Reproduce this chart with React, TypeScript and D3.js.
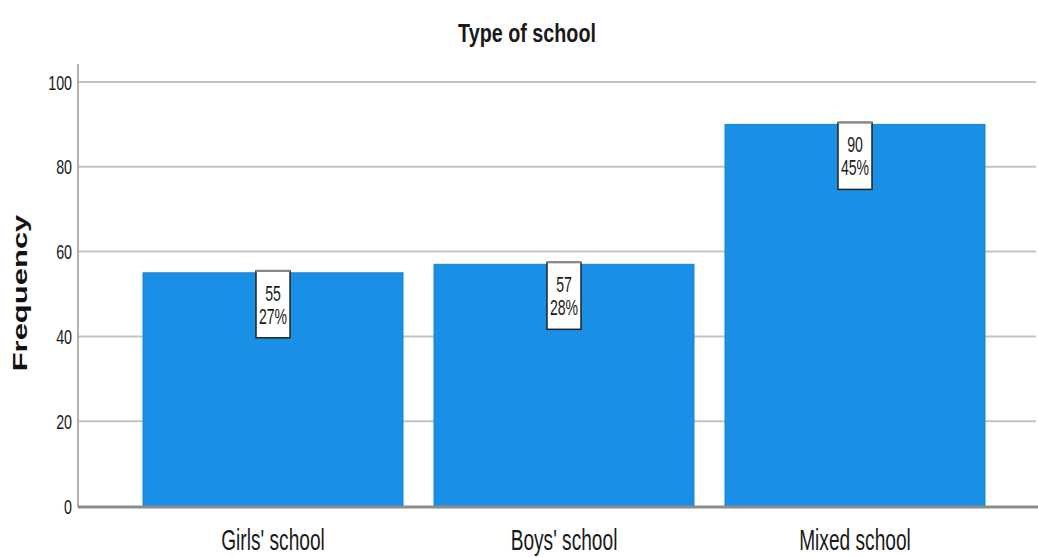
import React from "react";
import * as d3 from "d3";

const categories = ["Girls' school", "Boys' school", "Mixed school"];
const counts = [55, 57, 90];
const percents = ["27%", "28%", "45%"];
const yTicks = [0, 20, 40, 60, 80, 100];

const W = 1038;
const H = 557;
const font = "'Liberation Sans', Arial, sans-serif";

function SText(props: { x: number; y: number; sx: number; size: number; anchor?: string; bold?: boolean; children: any }) {
  return (
    <text
      transform={`translate(${props.x},${props.y}) scale(${props.sx},1)`}
      textAnchor={props.anchor || "middle"}
      fontFamily={font}
      fontWeight={props.bold ? "bold" : "normal"}
      fontSize={props.size}
      fill="#1a1a1a"
    >
      {props.children}
    </text>
  );
}

export default function App() {
  const x = d3.scaleBand<string>().domain(categories).range([127.5, 1000.5]).paddingInner(0.1065).paddingOuter(0.0533);
  const y = d3.scaleLinear().domain([0, 100]).range([506, 82]);
  const axisX = 78;
  return (
    <svg width={W} height={H} style={{ position: "absolute", left: 0, top: 0, background: "#fff" }}>
      {yTicks.filter((t) => t > 0).map((t) => (
        <line key={t} x1={axisX} x2={1036} y1={y(t)} y2={y(t)} stroke="#c4c4c4" strokeWidth={2} />
      ))}
      <line x1={axisX} x2={axisX} y1={64} y2={507} stroke="#9a9a9a" strokeWidth={1.5} />
      {yTicks.map((t) => (
        <SText key={t} x={72} y={y(t) + 7.5} sx={0.68} size={21} anchor="end">{t}</SText>
      ))}
      {categories.map((c, i) => (
        <rect key={c} x={x(c)} y={y(counts[i])} width={x.bandwidth()} height={y(0) - y(counts[i])} fill="#1a8fe6" stroke="#1683d4" strokeWidth={1} />
      ))}
      <line x1={axisX} x2={W} y1={507} y2={507} stroke="#8c8c8c" strokeWidth={3} />
      {categories.map((c, i) => {
        const cx = (x(c) as number) + x.bandwidth() / 2;
        const top = y(counts[i]) - 2;
        return (
          <g key={c}>
            <rect x={cx - 17} y={top} width={34} height={67} fill="#fff" stroke="#222" strokeWidth={1.5} />
            <line x1={cx - 17} x2={cx + 17} y1={top} y2={top} stroke="#888" strokeWidth={2} />
            <SText x={cx} y={top + 30} sx={0.64} size={22}>{counts[i]}</SText>
            <SText x={cx} y={top + 53} sx={0.64} size={22}>{percents[i]}</SText>
            <SText x={cx} y={550} sx={0.66} size={29}>{c}</SText>
          </g>
        );
      })}
      <SText x={527} y={42} sx={0.76} size={26} bold>Type of school</SText>
      <text transform="translate(27,293) scale(0.64,1) rotate(-90)" textAnchor="middle" fontFamily={font} fontWeight="bold" fontSize={31} fill="#111">Frequency</text>
    </svg>
  );
}
